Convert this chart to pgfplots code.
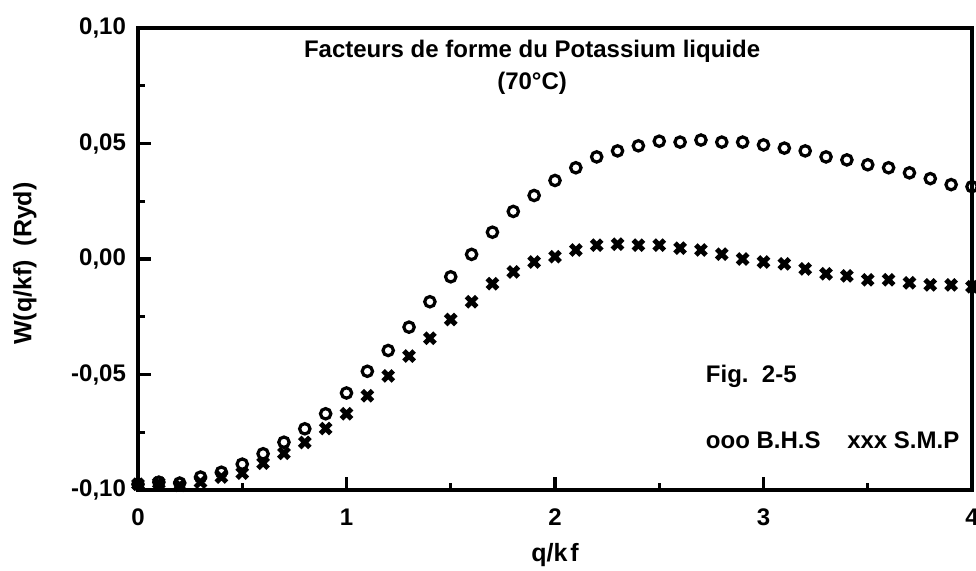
\documentclass[border=0pt]{standalone}
\usepackage{fontspec}
\setmainfont{Liberation Sans}
\usepackage{pgfplots}
\pgfplotsset{compat=1.18}
\begin{document}
\begin{tikzpicture}
\useasboundingbox (-69pt,-40pt) rectangle (419pt,245pt);
\begin{axis}[
  at={(0,0)}, anchor=south west,
  scale only axis, width=417pt, height=231pt,
  xmin=0, xmax=4, ymin=-0.10, ymax=0.10,
  axis line style={line width=1.8pt},
  tick align=inside, xtick pos=left, ytick pos=left,
  xtick={0,1,2,3,4}, xticklabels={0,1,2,3,4},
  ytick={-0.10,-0.05,0,0.05,0.10},
  yticklabels={{-0,10},{-0,05},{0,00},{0,05},{0,10}},
  minor x tick num=1, minor y tick num=1,
  major tick length=6.5pt, minor tick length=3.5pt,
  tick style={line width=1.6pt, black},
  ticklabel style={font=\fontsize{12}{14}\selectfont\bfseries},
  xticklabel style={yshift=-6pt},
  yticklabel style={xshift=-2.5pt},
  clip=false,
  xlabel={q/k\hspace{1.5pt}f},
  xlabel style={font=\fontsize{12.5}{14}\selectfont\bfseries, at={(0.5,-0.141)}, anchor=center},
  ylabel={W(q/kf)\ \ (Ryd)},
  ylabel style={font=\fontsize{12.5}{14}\selectfont\bfseries, at={(-0.1355,0.49)}, anchor=center},
]
\addplot[only marks, mark=o, mark size=2.6pt, line width=1.6pt] coordinates {
(0.0,-0.0975) (0.1,-0.0966) (0.2,-0.097) (0.3,-0.0944) (0.4,-0.0923)
(0.5,-0.0888) (0.6,-0.0843) (0.7,-0.0793) (0.8,-0.0735) (0.9,-0.067)
(1.0,-0.058) (1.1,-0.0486) (1.2,-0.0396) (1.3,-0.0295) (1.4,-0.0185)
(1.5,-0.0077) (1.6,0.002) (1.7,0.0116) (1.8,0.0206) (1.9,0.0275)
(2.0,0.034) (2.1,0.0395) (2.2,0.0442) (2.3,0.0468) (2.4,0.049)
(2.5,0.051) (2.6,0.0506) (2.7,0.0515) (2.8,0.0506) (2.9,0.0506)
(3.0,0.0494) (3.1,0.048) (3.2,0.0468) (3.3,0.0442) (3.4,0.0429)
(3.5,0.0408) (3.6,0.0395) (3.7,0.0373) (3.8,0.0348) (3.9,0.0322)
(4.0,0.0313)
};
\addplot[only marks, mark=x, mark size=3.6pt, line width=2.5pt] coordinates {
(0.0,-0.0975) (0.1,-0.097) (0.2,-0.098) (0.3,-0.0966) (0.4,-0.0944)
(0.5,-0.0927) (0.6,-0.0884) (0.7,-0.0841) (0.8,-0.0794) (0.9,-0.0734)
(1.0,-0.067) (1.1,-0.0592) (1.2,-0.0506) (1.3,-0.042) (1.4,-0.0343)
(1.5,-0.0262) (1.6,-0.0185) (1.7,-0.0107) (1.8,-0.0056) (1.9,-0.0013)
(2.0,0.001) (2.1,0.0039) (2.2,0.006) (2.3,0.0064) (2.4,0.006)
(2.5,0.006) (2.6,0.0047) (2.7,0.0039) (2.8,0.0021) (2.9,0.000)
(3.0,-0.0013) (3.1,-0.0021) (3.2,-0.0043) (3.3,-0.0064) (3.4,-0.0073)
(3.5,-0.009) (3.6,-0.009) (3.7,-0.0103) (3.8,-0.0112) (3.9,-0.0112)
(4.0,-0.012)
};
\node[font=\fontsize{12}{14}\selectfont\bfseries] at (axis cs:1.89,0.0900) {Facteurs de forme du Potassium liquide};
\node[font=\fontsize{12}{14}\selectfont\bfseries] at (axis cs:1.89,0.0762) {(70°C)};
\node[font=\fontsize{12}{14}\selectfont\bfseries, anchor=west] at (axis cs:2.69,-0.0506) {Fig.\ \ 2-5};
\node[font=\fontsize{12}{14}\selectfont\bfseries, anchor=west] at (axis cs:2.69,-0.0785) {ooo B.H.S\ \ \ \ xxx S.M.P};
\end{axis}
\end{tikzpicture}
\end{document}
